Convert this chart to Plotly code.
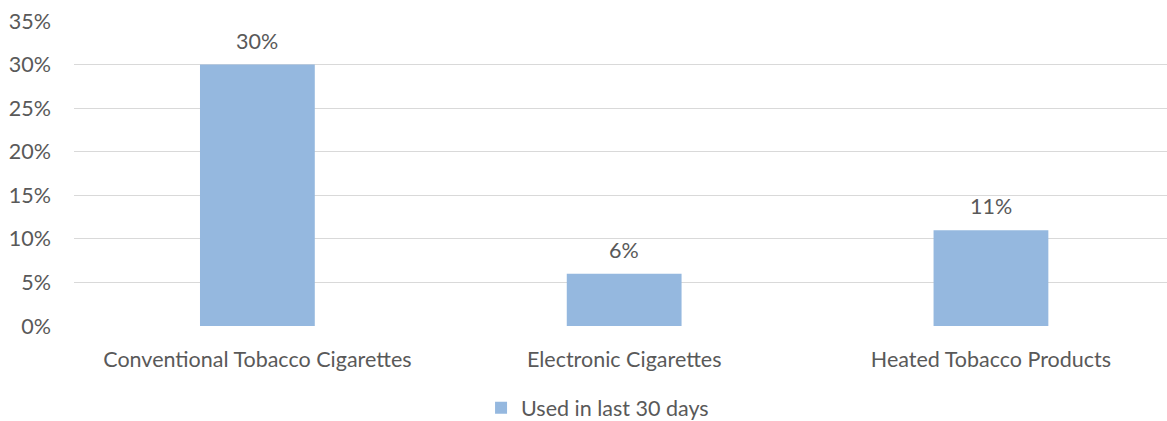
import plotly.graph_objects as go

categories = ["Conventional Tobacco Cigarettes", "Electronic Cigarettes", "Heated Tobacco Products"]
values = [30, 6, 11]
series_name = "Used in last 30 days"
tick_vals = [0, 5, 10, 15, 20, 25, 30, 35]
tick_text = ["0%", "5%", "10%", "15%", "20%", "25%", "30%", "35%"]
value_labels = ["30%", "6%", "11%"]

FONT = "Lato"
FS = 21.5
TXT = "#595959"

fig = go.Figure()
fig.add_trace(go.Bar(
    x=categories, y=values, name=series_name,
    marker=dict(color="#95b8df", line=dict(width=0)),
    width=0.313,
    showlegend=True,
))
for c, v, t in zip(categories, values, value_labels):
    fig.add_annotation(x=c, y=v, text=t, showarrow=False, yanchor="bottom",
                       yshift=9, font=dict(family=FONT, size=FS, color=TXT))

fig.update_layout(
    width=1167, height=421,
    margin=dict(l=74, r=0, t=21, b=95, autoexpand=False),
    plot_bgcolor="white", paper_bgcolor="white",
    font=dict(family=FONT, size=FS, color=TXT),
    xaxis=dict(range=[-0.5, 2.48], showgrid=False, showline=False, zeroline=False,
               ticks="", ticklabelstandoff=18, automargin=False,
               tickfont=dict(family=FONT, size=FS, color=TXT)),
    yaxis=dict(range=[0, 35], tickvals=tick_vals, ticktext=tick_text,
               showgrid=True, gridcolor="#d9d9d9", gridwidth=1.3, zeroline=False,
               showline=False, ticks="", ticklabelstandoff=22, automargin=False,
               tickfont=dict(family=FONT, size=FS, color=TXT)),
    legend=dict(orientation="h", x=0.479, xanchor="center", y=-0.268, yanchor="middle",
                font=dict(family=FONT, size=FS, color=TXT), itemwidth=30),
)
fig.write_html("out.html")
